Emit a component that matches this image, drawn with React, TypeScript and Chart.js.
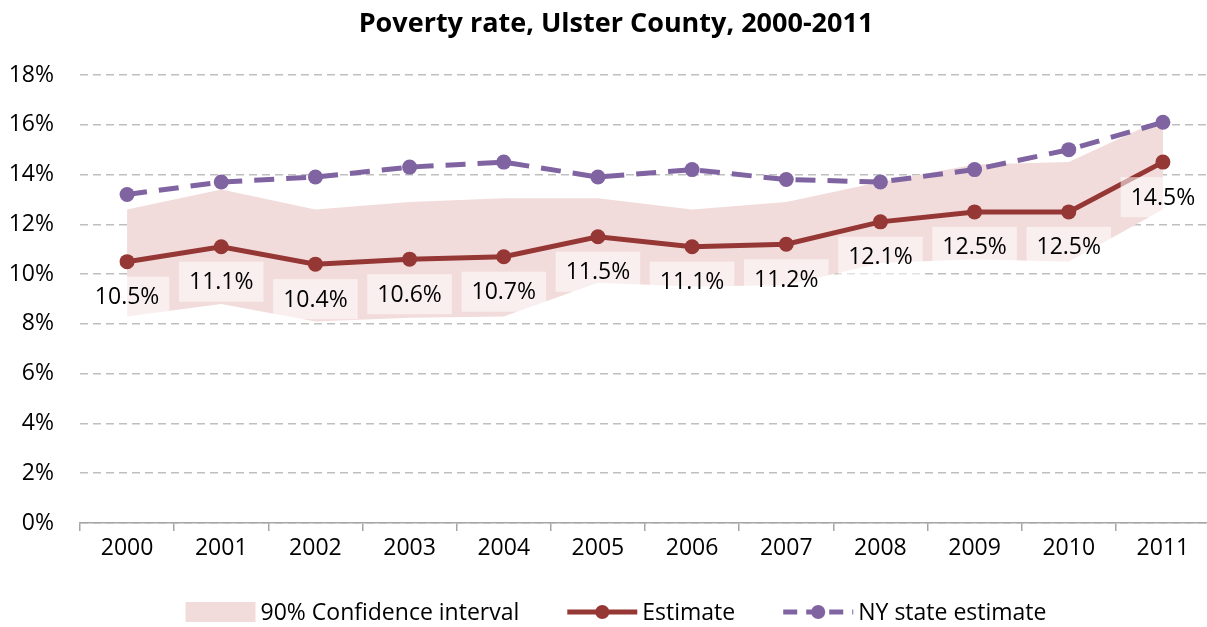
import React, { useEffect, useRef } from "react";
import { Chart, registerables } from "chart.js";

Chart.register(...registerables);

const years = ["2000", "2001", "2002", "2003", "2004", "2005", "2006", "2007", "2008", "2009", "2010", "2011"];
const estimate = [10.5, 11.1, 10.4, 10.6, 10.7, 11.5, 11.1, 11.2, 12.1, 12.5, 12.5, 14.5];
const ciLower = [8.3, 8.8, 8.1, 8.25, 8.3, 9.65, 9.5, 9.55, 10.45, 10.6, 10.5, 12.6];
const ciUpper = [12.6, 13.4, 12.6, 12.9, 13.05, 13.05, 12.6, 12.9, 13.7, 14.4, 14.5, 16.25];
const nyEstimate = [13.2, 13.7, 13.9, 14.3, 14.5, 13.9, 14.2, 13.8, 13.7, 14.2, 15.0, 16.1];

const TITLE = "Poverty rate, Ulster County, 2000-2011";
const LEGEND_LABELS = ["90% Confidence interval", "Estimate", "NY state estimate"];

const BAND = "rgb(242,220,219)";
const EST = "rgb(149,55,53)";
const NY = "rgb(128,100,162)";
const FONT = '"Open Sans", "DejaVu Sans", sans-serif';
const FS = 23;

const overlay = {
  id: "overlay",
  afterDatasetsDraw(chart: any) {
    const ctx = chart.ctx as CanvasRenderingContext2D;
    const meta = chart.getDatasetMeta(2);
    ctx.save();
    ctx.font = `${FS}px ${FONT}`;
    ctx.textAlign = "center";
    ctx.textBaseline = "middle";
    meta.data.forEach((pt: any, i: number) => {
      const txt = estimate[i].toFixed(1) + "%";
      const w = ctx.measureText(txt).width + 20;
      const h = 40;
      const x = pt.x;
      const y = pt.y + 15;
      ctx.fillStyle = "rgba(255,255,255,0.55)";
      ctx.fillRect(x - w / 2, y, w, h);
      ctx.fillStyle = "#000";
      ctx.fillText(txt, x, y + h / 2 + 1);
    });
    ctx.restore();
  },
  afterDraw(chart: any) {
    const ctx = chart.ctx as CanvasRenderingContext2D;
    const cx = 616;
    ctx.save();
    ctx.font = `bold 27px ${FONT}`;
    ctx.fillStyle = "#000";
    ctx.textAlign = "center";
    ctx.textBaseline = "middle";
    ctx.fillText(TITLE, cx, 24);

    ctx.font = `${FS}px ${FONT}`;
    ctx.textAlign = "left";
    const sw = 70;
    const gapText = 5;
    const gapItem = 48;
    const widths = LEGEND_LABELS.map((t) => ctx.measureText(t).width);
    const total = widths.reduce((a, b) => a + b, 0) + 3 * (sw + gapText) + 2 * gapItem;
    let x = cx - total / 2;
    const ly = 612;
    LEGEND_LABELS.forEach((t, i) => {
      if (i === 0) {
        ctx.fillStyle = BAND;
        ctx.fillRect(x, ly - 10, sw, 20);
      } else {
        const col = i === 1 ? EST : NY;
        ctx.strokeStyle = col;
        ctx.lineWidth = 5;
        ctx.setLineDash(i === 2 ? [14, 9] : []);
        ctx.beginPath();
        ctx.moveTo(x, ly);
        ctx.lineTo(x + sw, ly);
        ctx.stroke();
        ctx.setLineDash([]);
        ctx.fillStyle = col;
        ctx.beginPath();
        ctx.arc(x + sw / 2, ly, 7, 0, Math.PI * 2);
        ctx.fill();
      }
      x += sw + gapText;
      ctx.fillStyle = "#000";
      ctx.fillText(t, x, ly + 1);
      x += widths[i] + gapItem;
    });
    ctx.restore();
  },
};

export default function App() {
  const ref = useRef<HTMLCanvasElement>(null);
  useEffect(() => {
    document.body.style.margin = "0";
    const chart = new Chart(ref.current as HTMLCanvasElement, {
      type: "line",
      data: {
        labels: years,
        datasets: [
          {
            label: "CI lower",
            data: ciLower,
            borderWidth: 0,
            pointRadius: 0,
            fill: false,
            order: 5,
          },
          {
            label: LEGEND_LABELS[0],
            data: ciUpper,
            borderWidth: 0,
            pointRadius: 0,
            backgroundColor: BAND,
            fill: "-1",
            order: 4,
          },
          {
            label: LEGEND_LABELS[1],
            data: estimate,
            borderColor: EST,
            backgroundColor: EST,
            borderWidth: 5,
            pointRadius: 7.5,
            pointBackgroundColor: EST,
            pointBorderColor: EST,
            pointBorderWidth: 0,
            tension: 0,
            order: 2,
          },
          {
            label: LEGEND_LABELS[2],
            data: nyEstimate,
            borderColor: NY,
            backgroundColor: NY,
            borderWidth: 5,
            borderDash: [20, 12],
            pointRadius: 7.5,
            pointBackgroundColor: NY,
            pointBorderColor: NY,
            pointBorderWidth: 0,
            tension: 0,
            order: 1,
          },
        ],
      },
      options: {
        animation: false,
        responsive: false,
        layout: { autoPadding: false, padding: { top: 75, bottom: 50, left: 0, right: 0 } },
        plugins: {
          legend: { display: false },
          title: { display: false },
          tooltip: { enabled: false },
        },
        scales: {
          x: {
            offset: true,
            grid: {
              display: true,
              drawOnChartArea: false,
              drawTicks: true,
              tickLength: 8,
              offset: true,
              color: "#a6a6a6",
              lineWidth: 1.5,
            },
            border: { display: true, color: "#a6a6a6", width: 1.5 },
            ticks: { color: "#000", font: { family: FONT, size: FS }, padding: 4 },
            afterFit(scale: any) {
              scale.height = 54;
            },
          },
          y: {
            min: 0,
            max: 18,
            ticks: {
              stepSize: 2,
              color: "#000",
              font: { family: FONT, size: FS },
              padding: 26,
              callback: (v: any) => v + "%",
            },
            grid: { drawTicks: false, color: "#bfbfbf", lineWidth: 1.5 },
            border: { display: false, dash: [8, 5] },
            afterFit(scale: any) {
              scale.width = 80;
            },
          },
        },
      },
      plugins: [overlay],
    });
    return () => chart.destroy();
  }, []);
  return (
    <div style={{ width: 1207, height: 627, overflow: "hidden" }}>
      <canvas ref={ref} width={1210} height={627} style={{ display: "block" }} />
    </div>
  );
}
